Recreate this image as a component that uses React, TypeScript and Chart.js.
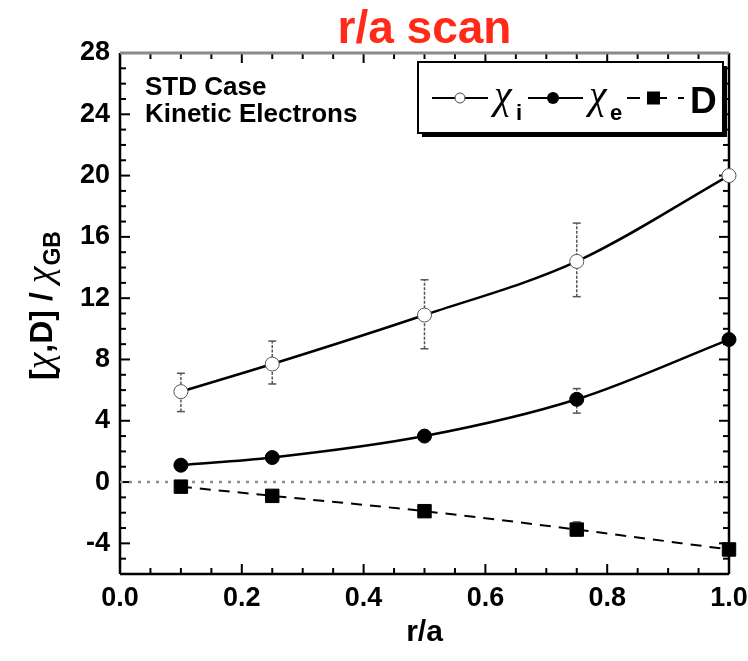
import React, { useEffect, useRef } from "react";
import { Chart, registerables } from "chart.js";

Chart.register(...registerables);

// ---------- data ----------
const rOverA = [0.1, 0.25, 0.5, 0.75, 1.0];
const chiI = [5.9, 7.7, 10.9, 14.4, 20.0];
const chiIErrLow = [4.6, 6.4, 8.7, 12.1, null];
const chiIErrHigh = [7.1, 9.2, 13.2, 16.9, null];
const chiE = [1.1, 1.6, 3.0, 5.4, 9.3];
const chiEErrLow = [null, null, null, 4.5, null];
const chiEErrHigh = [null, null, null, 6.1, null];
const dCoef = [-0.3, -0.9, -1.9, -3.1, -4.4];
const dErrLow = [null, null, null, -3.5, null];
const dErrHigh = [null, null, null, -2.6, null];
const zeroLineX = [0, 1];
const zeroLineY = [0, 0];
const xTickValues = [0, 0.2, 0.4, 0.6, 0.8, 1.0];
const yTickValues = [-4, 0, 4, 8, 12, 16, 20, 24, 28];
const xMin = 0, xMax = 1, yMin = -6, yMax = 28;
const titleText = "r/a scan";
const xTitle = "r/a";
const yTitleSub = "GB";
const noteLines = ["STD Case", "Kinetic Electrons"];

const SANS = '"Liberation Sans", Arial, sans-serif';
const GREEK = '"Liberation Serif", "Times New Roman", serif';

const pts = (xs: number[], ys: number[]) => xs.map((x, i) => ({ x, y: ys[i] }));

const line = (ctx: CanvasRenderingContext2D, x1: number, y1: number, x2: number, y2: number) => {
  ctx.beginPath();
  ctx.moveTo(x1, y1);
  ctx.lineTo(x2, y2);
  ctx.stroke();
};

const framePlugin = {
  id: "frameTicks",
  beforeDatasetsDraw(chart: any) {
    const { ctx, chartArea: a, scales } = chart;
    const x = scales.x, y = scales.y;
    ctx.save();
    ctx.strokeStyle = "#000";
    ctx.lineWidth = 2;
    for (let v = yMin; v <= yMax; v++) {
      const py = y.getPixelForValue(v);
      const len = v % 4 === 0 ? 10 : 6;
      line(ctx, a.left, py, a.left + len, py);
      line(ctx, a.right, py, a.right - len, py);
    }
    for (let i = 0; i <= 20; i++) {
      const px = x.getPixelForValue(i * 0.05);
      const len = i % 4 === 0 ? 10 : 6;
      line(ctx, px, a.bottom, px, a.bottom - len);
      line(ctx, px, a.top, px, a.top + len);
    }
    // frame
    ctx.lineWidth = 2.5;
    ctx.strokeStyle = "#000";
    line(ctx, a.left, a.top, a.left, a.bottom);
    line(ctx, a.left, a.bottom, a.right, a.bottom);
    line(ctx, a.right, a.top, a.right, a.bottom);
    ctx.strokeStyle = "#8a8a8a";
    ctx.lineWidth = 3;
    line(ctx, a.left, a.top, a.right, a.top);

    // error bars
    const drawErr = (lo: (number | null)[], hi: (number | null)[]) => {
      rOverA.forEach((r, i) => {
        const l = lo[i], h = hi[i];
        if (l == null || h == null) return;
        const px = x.getPixelForValue(r);
        const pl = y.getPixelForValue(l);
        const ph = y.getPixelForValue(h);
        ctx.strokeStyle = "#555";
        ctx.lineWidth = 1.5;
        ctx.setLineDash([3, 1.5]);
        line(ctx, px, pl, px, ph);
        ctx.setLineDash([]);
        line(ctx, px - 4, pl, px + 4, pl);
        line(ctx, px - 4, ph, px + 4, ph);
      });
    };
    drawErr(chiIErrLow, chiIErrHigh);
    drawErr(chiEErrLow, chiEErrHigh);
    drawErr(dErrLow, dErrHigh);
    ctx.restore();
  },
  afterDraw(chart: any) {
    const { ctx, chartArea: a } = chart;
    ctx.save();
    // title
    ctx.fillStyle = "#FF2A17";
    ctx.font = `bold 46px ${SANS}`;
    ctx.textAlign = "center";
    ctx.textBaseline = "alphabetic";
    ctx.fillText(titleText, (a.left + a.right) / 2, 43);

    // x title
    ctx.fillStyle = "#000";
    ctx.font = `bold 30px ${SANS}`;
    ctx.fillText(xTitle, (a.left + a.right) / 2, 641);

    // y title (rotated), drawn in segments
    ctx.save();
    ctx.translate(52, 380);
    ctx.rotate(-Math.PI / 2);
    ctx.textAlign = "left";
    const B = `bold 32px ${SANS}`;
    const G = `italic 38px ${GREEK}`;
    const segs: [string, string][] = [["[", B], ["χ", G], [",D]", B], [" / ", B], ["χ", G]];
    let cx = 0;
    segs.forEach(([t, f]) => {
      ctx.font = f;
      ctx.fillText(t, cx, 0);
      cx += ctx.measureText(t).width;
    });
    ctx.font = `bold 23px ${SANS}`;
    ctx.fillText(yTitleSub, cx + 1, 8);
    ctx.restore();

    // notes
    ctx.textAlign = "left";
    ctx.font = `bold 26px ${SANS}`;
    ctx.fillText(noteLines[0], 145, 95);
    ctx.fillText(noteLines[1], 145, 122);

    // legend box
    const bx = 418, by = 62, bw = 305, bh = 71;
    ctx.fillStyle = "#000";
    ctx.fillRect(bx + 4, by + 4, bw, bh);
    ctx.fillStyle = "#fff";
    ctx.fillRect(bx, by, bw, bh);
    ctx.strokeStyle = "#000";
    ctx.lineWidth = 2;
    ctx.strokeRect(bx, by, bw, bh);

    const ly = 98;
    ctx.lineWidth = 2;
    // chi_i
    line(ctx, 432, ly, 488, ly);
    ctx.beginPath();
    ctx.arc(460, ly, 5, 0, Math.PI * 2);
    ctx.fillStyle = "#fff";
    ctx.fill();
    ctx.lineWidth = 1;
    ctx.strokeStyle = "#444";
    ctx.stroke();
    ctx.fillStyle = "#000";
    ctx.strokeStyle = "#000";
    ctx.font = `italic 40px ${GREEK}`;
    ctx.fillText("χ", 494, 108);
    ctx.font = `bold 22px ${SANS}`;
    ctx.fillText("i", 516, 120);
    // chi_e
    ctx.lineWidth = 2;
    line(ctx, 528, ly, 583, ly);
    ctx.beginPath();
    ctx.arc(553, ly, 6, 0, Math.PI * 2);
    ctx.fill();
    ctx.font = `italic 40px ${GREEK}`;
    ctx.fillText("χ", 589, 108);
    ctx.font = `bold 22px ${SANS}`;
    ctx.fillText("e", 610, 120);
    // D
    line(ctx, 627, ly, 640, ly);
    ctx.fillRect(647, ly - 6.5, 13, 13);
    line(ctx, 660, ly, 667, ly);
    line(ctx, 678, ly, 684, ly);
    ctx.font = `bold 37px ${SANS}`;
    ctx.fillText("D", 690, 113);
    ctx.restore();
  },
};

export default function App() {
  const ref = useRef<HTMLCanvasElement | null>(null);
  useEffect(() => {
    if (!ref.current) return;
    const tickFont = { family: SANS, size: 27, weight: "bold" as const, lineHeight: 1 };
    const chart = new Chart(ref.current, {
      type: "line",
      data: {
        datasets: [
          {
            label: "zero",
            data: pts(zeroLineX, zeroLineY),
            borderColor: "#8c8c8c",
            borderWidth: 2.5,
            borderDash: [3, 6],
            pointRadius: 0,
            order: 10,
          },
          {
            label: "χi",
            data: pts(rOverA, chiI),
            borderColor: "#000",
            borderWidth: 2.5,
            pointStyle: "circle",
            pointRadius: 7,
            pointBackgroundColor: "#fff",
            pointBorderColor: "#555",
            pointBorderWidth: 1,
            tension: 0.4,
            cubicInterpolationMode: "monotone",
            clip: false,
            order: 1,
          },
          {
            label: "χe",
            data: pts(rOverA, chiE),
            borderColor: "#000",
            borderWidth: 2.5,
            pointStyle: "circle",
            pointRadius: 7,
            pointBackgroundColor: "#000",
            pointBorderColor: "#000",
            pointBorderWidth: 1,
            tension: 0.4,
            cubicInterpolationMode: "monotone",
            clip: false,
            order: 2,
          },
          {
            label: "D",
            data: pts(rOverA, dCoef),
            borderColor: "#000",
            borderWidth: 2,
            borderDash: [11, 8],
            pointStyle: "rect",
            pointRadius: 9.5,
            pointBackgroundColor: "#000",
            pointBorderColor: "#000",
            pointBorderWidth: 1,
            tension: 0.4,
            cubicInterpolationMode: "monotone",
            clip: false,
            order: 3,
          },
        ],
      },
      options: {
        animation: false,
        responsive: false,
        devicePixelRatio: 1,
        layout: { padding: { top: 53, right: 19, left: 0, bottom: 0 } },
        plugins: { legend: { display: false }, title: { display: false }, tooltip: { enabled: false } },
        scales: {
          x: {
            type: "linear",
            min: xMin,
            max: xMax,
            grid: { display: false, drawTicks: false },
            border: { display: false },
            afterBuildTicks: (s: any) => {
              s.ticks = xTickValues.map((v) => ({ value: v }));
            },
            afterFit: (s: any) => {
              s.height = 87;
              s.paddingLeft = 0;
              s.paddingRight = 0;
            },
            ticks: {
              color: "#000",
              font: tickFont,
              padding: 11,
              maxRotation: 0,
              autoSkip: false,
              callback: (v: any) => Number(v).toFixed(1),
            },
          },
          y: {
            type: "linear",
            min: yMin,
            max: yMax,
            grid: { display: false, drawTicks: false },
            border: { display: false },
            afterBuildTicks: (s: any) => {
              s.ticks = yTickValues.map((v) => ({ value: v }));
            },
            afterFit: (s: any) => {
              s.width = 120;
              s.paddingTop = 0;
              s.paddingBottom = 0;
            },
            ticks: {
              color: "#000",
              font: tickFont,
              padding: 10,
              autoSkip: false,
              callback: (v: any) => String(v),
            },
          },
        },
      },
      plugins: [framePlugin],
    } as any);
    return () => chart.destroy();
  }, []);
  return (
    <div style={{ position: "absolute", left: 0, top: 0, width: 748, height: 661, background: "#fff" }}>
      <canvas ref={ref} width={748} height={661} style={{ display: "block", width: 748, height: 661 }} />
    </div>
  );
}
